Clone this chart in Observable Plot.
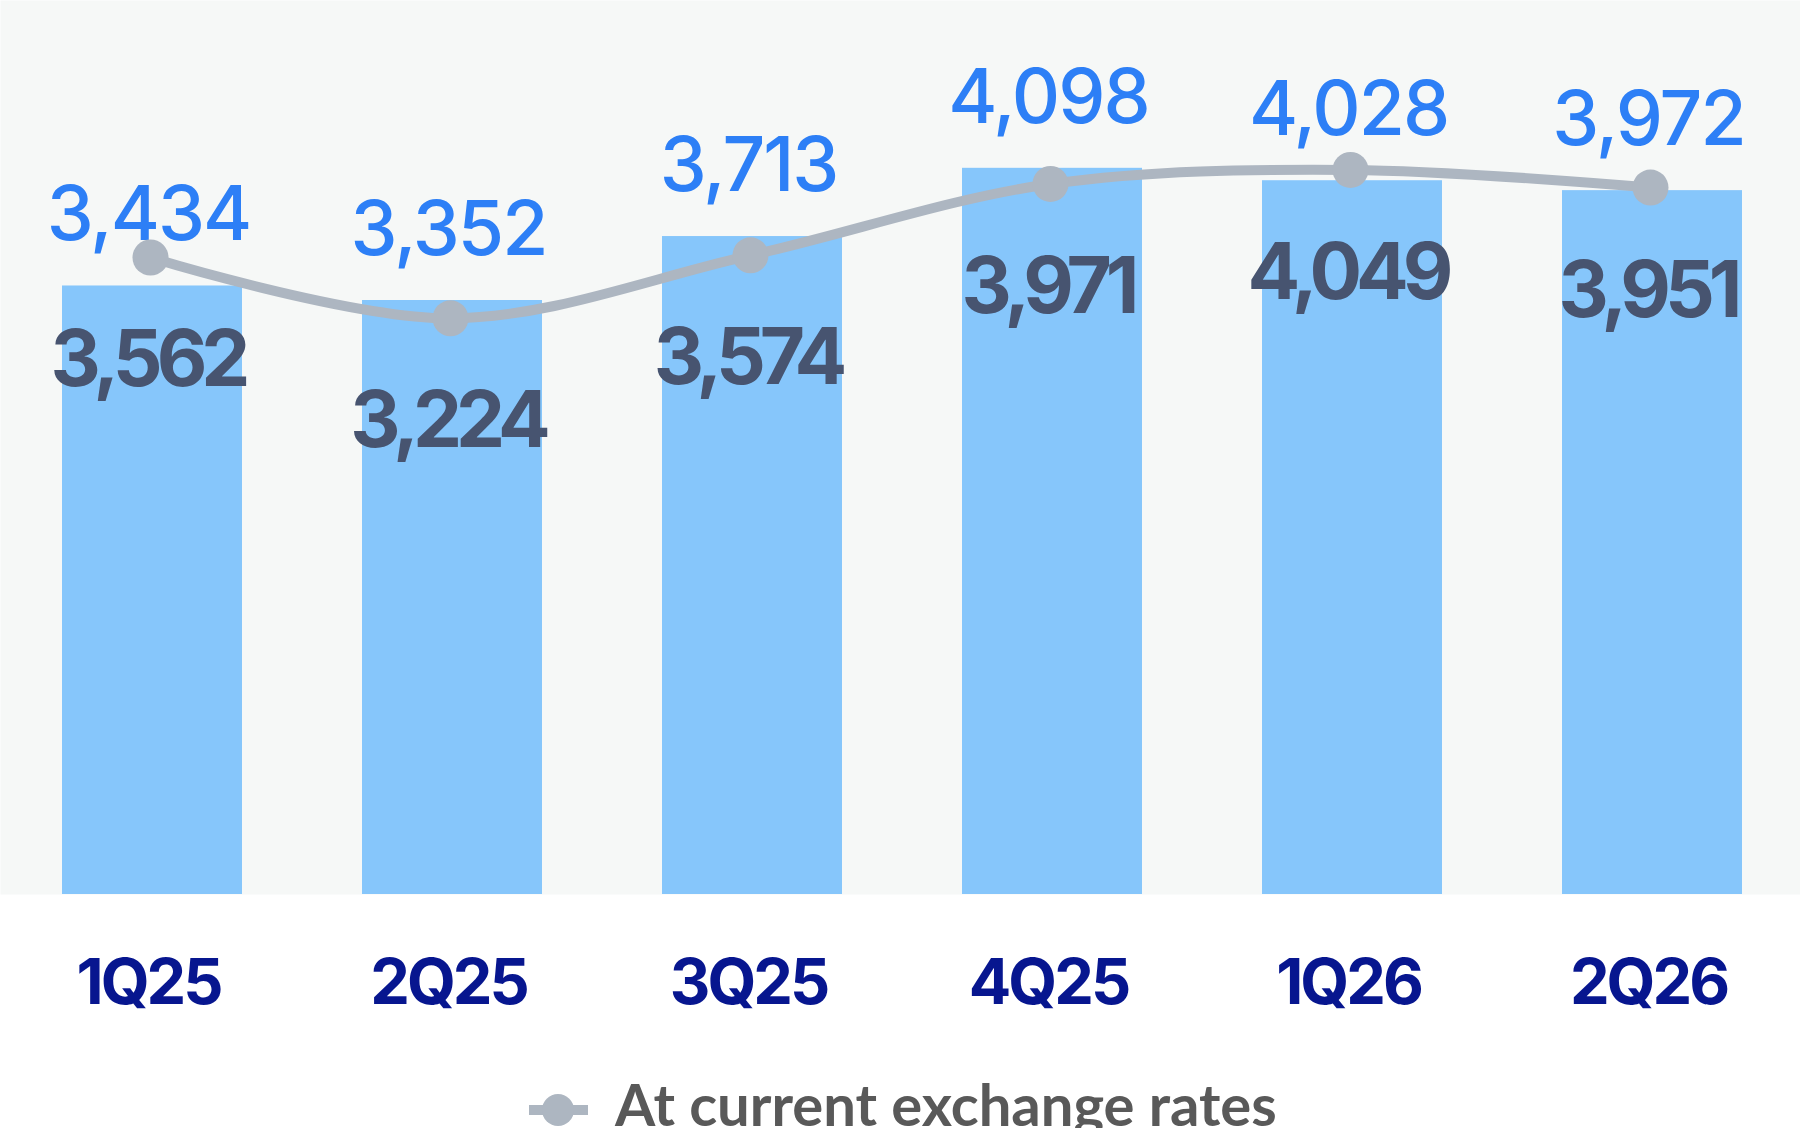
<!DOCTYPE html>
<html>
<head>
<meta charset="utf-8">
<script src="https://cdn.jsdelivr.net/npm/d3@7"></script>
<script src="https://cdn.jsdelivr.net/npm/@observablehq/plot@0.6"></script>
<style>
  html, body { margin: 0; padding: 0; background: #ffffff; width: 1800px; height: 1128px; overflow: hidden; }
  #chart { position: relative; width: 1800px; height: 1028px; }
  #chart > div, #chart > svg { position: absolute; left: 0; top: 0; }
  #bars g[aria-label="text"] text { letter-spacing: -2px; }
  #bars g[aria-label="x-axis tick label"] text { letter-spacing: -3px; }
  #line g[aria-label="text"] text { letter-spacing: -6px; }
  #legend { display: block; }
</style>
</head>
<body>
<div id="chart"><div id="bars"></div><div id="line"></div></div>
<svg id="legend" width="1800" height="100"></svg>
<script>
// ---- data ----
const quarters = ["1Q25", "2Q25", "3Q25", "4Q25", "1Q26", "2Q26"];
const constantRates = [3434, 3352, 3713, 4098, 4028, 3972];   // bars (blue labels)
const currentRates = [3562, 3224, 3574, 3971, 4049, 3951];    // line (dark labels)
const legendLabel = "At current exchange rates";

const data = quarters.map((q, i) => ({q, bar: constantRates[i], line: currentRates[i]}));
const fmt = d3.format(",");

const W = 1800, H = 1028, MB = 134;

const bars = Plot.plot({
  width: W, height: H,
  marginTop: 0, marginBottom: MB, marginLeft: 0, marginRight: 0,
  style: {background: "transparent", overflow: "visible"},
  x: {domain: quarters, range: [2, 1802], paddingInner: 0.4, paddingOuter: 0.2, label: null},
  y: {domain: [0, 5045], axis: null},
  marks: [
    Plot.frame({fill: "#f6f8f7", stroke: "none"}),
    Plot.barY(data, {x: "q", y: "bar", fill: "#86c6fb"}),
    Plot.text(data, {
      x: "q", y: "bar", text: d => fmt(d.bar),
      lineAnchor: "bottom", dy: -45.5, dx: -4,
      fontFamily: "Inter", fontSize: 75, fontWeight: 500, fill: "#2d7ff6"
    }),
    Plot.axisX({
      tickSize: 0, tickPadding: 65, label: null, dx: -4,
      fontFamily: "Inter", fontSize: 63, fontWeight: 700, fill: "#07168f"
    })
  ]
});
document.getElementById("bars").appendChild(bars);

const line = Plot.plot({
  width: W, height: H,
  marginTop: 0, marginBottom: MB, marginLeft: 0, marginRight: 0,
  style: {background: "transparent", overflow: "visible"},
  x: {type: "point", domain: quarters, padding: 0.5, axis: null},
  y: {domain: [20, 4991], axis: null},
  marks: [
    Plot.line(data, {x: "q", y: "line", stroke: "#adb6c1", strokeWidth: 10, curve: "catmull-rom"}),
    Plot.dot(data, {x: "q", y: "line", r: 18, fill: "#adb6c1", stroke: "none"}),
    Plot.text(data, {
      x: "q", y: "line", text: d => fmt(d.line),
      lineAnchor: "bottom", dy: 129, dx: -3,
      fontFamily: "Inter", fontSize: 78, fontWeight: 700, fill: "#475470"
    })
  ]
});
document.getElementById("line").appendChild(line);

// ---- legend ----
const lg = d3.select("#legend");
lg.append("line").attr("x1", 529).attr("x2", 588).attr("y1", 82).attr("y2", 82)
  .attr("stroke", "#adb6c1").attr("stroke-width", 10);
lg.append("circle").attr("cx", 558).attr("cy", 82).attr("r", 16).attr("fill", "#adb6c1");
lg.append("text").attr("x", 615).attr("y", 98)
  .attr("font-family", "Lato").attr("font-weight", 700).attr("font-size", 58)
  .attr("fill", "#595959").text(legendLabel);
</script>
</body>
</html>
